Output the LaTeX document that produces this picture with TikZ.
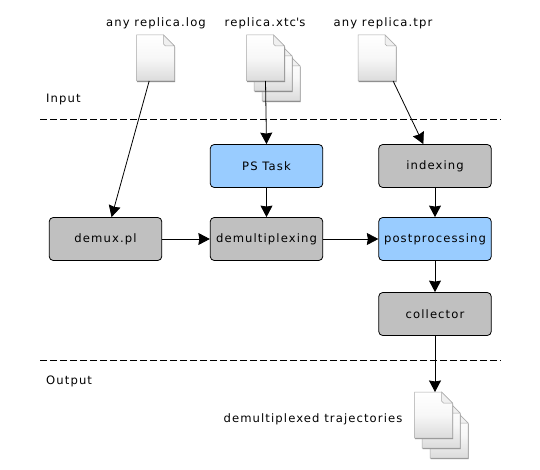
\documentclass[tikz,border=0pt]{standalone}
\usepackage{fontspec}
\setmainfont{DejaVu Sans}[LetterSpace=9.5]
\usetikzlibrary{arrows.meta,shadings,calc}
\definecolor{bluebox}{HTML}{99CCFF}
\definecolor{graybox}{HTML}{C0C0C0}
\definecolor{docedge}{HTML}{A8A8A8}
\tikzset{
  x=1pt,y=-1pt,
  every node/.style={font=\fontsize{11.6}{14}\selectfont,text=black},
  procbox/.style={draw=black,line width=0.8pt,rounded corners=4pt,minimum width=112.5pt,minimum height=43pt,inner sep=0pt},
  blue box/.style={procbox,fill=bluebox},
  gray box/.style={procbox,fill=graybox},
  flow/.style={draw=black,line width=0.8pt,-{Stealth[length=11.5pt,width=12pt,inset=1pt]}},
  sep line/.style={draw=black,line width=0.7pt,dash pattern=on 7pt off 3pt},
  docanchor/.style={minimum width=38pt,minimum height=46pt,inner sep=0pt,outer sep=0pt},
  label text/.style={inner sep=0pt,anchor=base},
}
% one document icon with top-left corner at (#2,#3), named #1
\newcommand{\docicon}[3]{%
  \fill[black!45] (#2+0.5,#3+1) -- ++(27,0) -- ++(11,11) -- ++(0,35.2) -- ++(-38,0) -- cycle;
  \shade[top color=white,bottom color=black!14,middle color=white!97!black,draw=docedge,line width=0.5pt]
    (#2,#3) -- ++(27,0) -- ++(11,11) -- ++(0,35) -- ++(-38,0) -- cycle;
  \fill[black!6,draw=docedge,line width=0.5pt] (#2+27,#3) -- ++(0,9) -- ++(2,2) -- ++(9,0) -- cycle;
  \node[docanchor] (#1) at (#2+19,#3+23) {};
}
\begin{document}
\begin{tikzpicture}
\useasboundingbox (0,0) rectangle (540,470);
\fill[white] (0,0) rectangle (540,470);

\node[label text] (tlog) at (156,26.5) {any replica.log};
\node[label text] (txtc) at (265,26.5) {replica.xtc\textquotesingle s};
\node[label text] (ttpr) at (383,26.5) {any replica.tpr};
\node[label text,anchor=base west] (tin) at (46,102.5) {Input};
\node[label text,anchor=base west] (tout) at (46,384.5) {Output};
\node[label text] (ttraj) at (313,422.5) {demultiplexed trajectories};

\docicon{log}{136.5}{35}
\docicon{xtcc}{262}{55}
\docicon{xtcb}{254}{45}
\docicon{xtc}{246.5}{35}
\docicon{tpr}{358}{35}
\docicon{outc}{430}{412}
\docicon{outb}{422}{402}
\docicon{out}{414.5}{392}

\coordinate (sepA1) at (40,119.5);
\coordinate (sepA2) at (501,119.5);
\coordinate (sepB1) at (40,360);
\coordinate (sepB2) at (501,360);
\draw[sep line] (sepA1) -- (sepA2);
\draw[sep line] (sepB1) -- (sepB2);

\node[gray box] (demux) at (105.5,239) {\raisebox{-0.5pt}{demux.pl}};
\node[blue box] (ps) at (266.5,166) {\raisebox{-0.5pt}{PS Task}};
\node[gray box] (demul) at (266.5,239) {\raisebox{-0.5pt}{demultiplexing}};
\node[gray box] (index) at (435,166) {\raisebox{-0.5pt}{indexing}};
\node[blue box] (post) at (435,239) {\raisebox{-0.5pt}{postprocessing}};
\node[gray box] (coll) at (435,314) {\raisebox{-0.5pt}{collector}};

\draw[flow] (log) -- (demux);
\draw[flow] (xtc.south) -- (ps.north);
\draw[flow] (tpr.305) -- (index.118);
\draw[flow] (ps) -- (demul);
\draw[flow] (index) -- (post);
\draw[flow] (demux) -- (demul);
\draw[flow] (demul) -- (post);
\draw[flow] (post) -- (coll);
\draw[flow] (coll.south) -- (coll.south |- out.north);
\end{tikzpicture}
\end{document}
